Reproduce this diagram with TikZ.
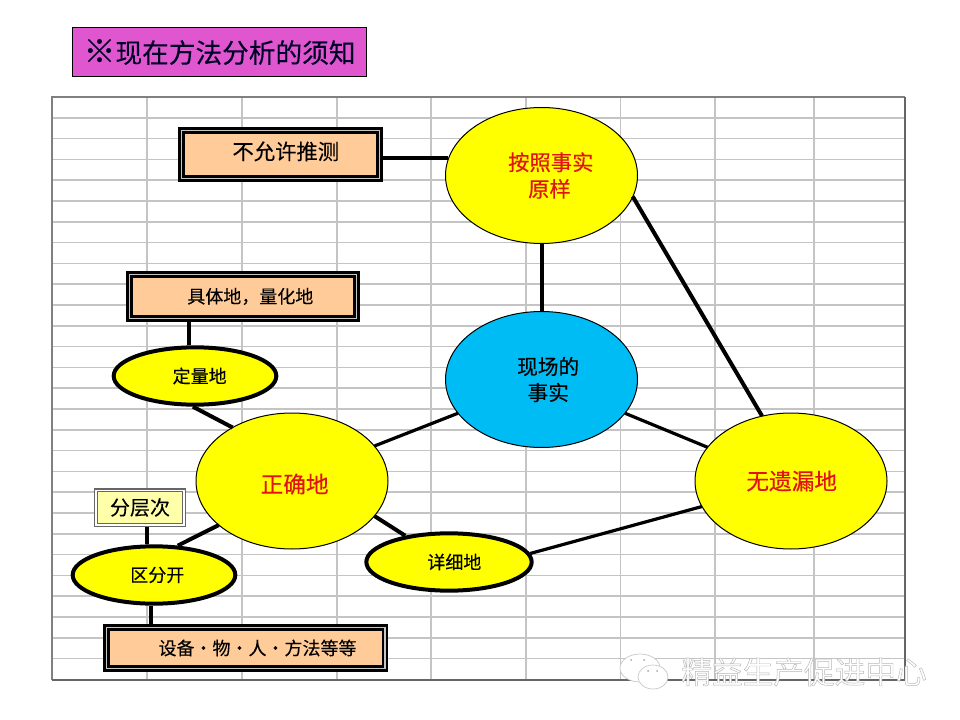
\documentclass[tikz,border=0pt]{standalone}
\usepackage{fontspec}
\setmainfont{Noto Sans CJK SC}[FakeBold=0.25]
\newfontfamily\plainfont{Noto Sans CJK SC}
\usetikzlibrary{shapes.geometric}
\definecolor{gridgray}{HTML}{C4C4C4}
\definecolor{framegray}{HTML}{808080}
\definecolor{titlefill}{HTML}{E056CF}
\definecolor{boxfill}{HTML}{FFCC99}
\definecolor{paleyellow}{HTML}{FFFFAA}
\definecolor{skyblue}{HTML}{00BCF5}
\definecolor{ellyellow}{HTML}{FFFF00}
\definecolor{redtext}{HTML}{E01414}
\newcommand{\outlinetext}[1]{\special{pdf:code 2 Tr 0.35 w 0.72 G}#1\special{pdf:code 0 Tr 0 w 0 G}}
\tikzset{
  bigell/.style={ellipse,draw=black,line width=.75pt,fill=ellyellow,inner sep=0pt,outer sep=0pt,
    minimum width=144pt,minimum height=102pt,align=center,font=\fontsize{16}{20}\selectfont,text=redtext},
  smallell/.style={ellipse,draw=black,line width=3pt,fill=ellyellow,inner sep=0pt,outer sep=1.5pt,
    minimum width=122pt,minimum height=43pt,font=\fontsize{13.5}{16}\selectfont},
  dblbox/.style={rectangle,draw=black,line width=2pt,double=gray!45,double distance=1pt,fill=boxfill,
    inner sep=0pt,outer sep=2.5pt,font=\fontsize{13.5}{16}\selectfont},
  link/.style={draw=black,line width=3pt},
  thinlink/.style={draw=black,line width=2.4pt},
}
\begin{document}
\begin{tikzpicture}[x=.75pt,y=-.75pt]
\useasboundingbox (0,0) rectangle (960,720);
\fill[white] (0,0) rectangle (960,720);
% grid
\fill[white] (52,97) rectangle (905,680);
\foreach \n in {1,...,27} \draw[gridgray,line width=1.1pt] (52,{97+\n*20.8}) -- (905,{97+\n*20.8});
\foreach \gx in {147,242,337,431,526,620.5,715,814} \draw[gridgray,line width=1.1pt] (\gx,97) -- (\gx,680);
\draw[framegray,line width=1.4pt] (52,680) -- (52,97) -- (905,97);
\draw[black!60,line width=1.8pt] (905,97) -- (905,680) -- (52,680);
% title
\node[rectangle,draw=black,line width=.75pt,fill=titlefill,minimum width=220.5pt,minimum height=37pt,inner sep=0pt,
  font=\fontsize{20}{24}\selectfont,text=black!85!blue] (title) at (219.5,52) {{\fontsize{24}{24}\selectfont ※}现在方法分析的须知};
% big ellipses
\node[bigell] (fact) at (541.5,175.5) {\hspace*{14pt}按照事实\\\hspace*{12pt}原样};
\node[bigell,fill=skyblue,text=black,font=\fontsize{15.5}{19.5}\selectfont] (site) at (541.5,379.5) {\hspace*{10pt}现场的\\\hspace*{10pt}事实};
\node[bigell,font=\fontsize{17}{22}\selectfont] (exact) at (292,481) {\hspace*{4pt}\rule{0pt}{19pt}正确地};
\node[bigell,font=\fontsize{17}{22}\selectfont] (full) at (791,481) {\hspace*{1pt}无遗漏地};
% small ellipses
\node[smallell] (quant) at (195,376) {\hspace*{7pt}定量地};
\node[smallell] (split) at (154,575) {\hspace*{5pt}区分开};
\node[smallell,minimum width=124pt] (detail) at (449,562) {\hspace*{8pt}详细地};
% boxes
\node[dblbox,minimum width=148.5pt,minimum height=36pt,font=\fontsize{16}{20}\selectfont] (noguess) at (280.5,154.5) {\hspace*{8pt}\rule[-6pt]{0pt}{6pt}不允许推测};
\node[dblbox,minimum width=170.5pt,minimum height=33pt] (concrete) at (243,296.5) {\hspace*{11pt}具体地，量化地};
\node[dblbox,minimum width=209pt,minimum height=31pt] (things) at (245.5,648) {\hspace*{18pt}设备・物・人・方法等等};
\node[rectangle,draw=black!60,line width=1pt,double=white,double distance=1pt,fill=paleyellow,inner sep=0pt,outer sep=1.5pt,
  minimum width=66pt,minimum height=26pt,font=\fontsize{15}{18}\selectfont] (layer) at (140,507.5) {分层次};
% connectors
\draw[link] (noguess.-2) -- (noguess.-2 -| fact.170);
\draw[link] (fact.south) -- (site.north);
\draw[link] (fact.-13) -- (full.114);
\draw[thinlink] (site.202.5) -- (exact.23);
\draw[thinlink] (site.-22) -- (full.158.6);
\draw[thinlink] (full.196.5) -- (detail.6);
\draw[link] (exact.-23.4) -- (detail.149.6);
\draw[link] (exact.138) -- (quant.-94);
\draw[link] (exact.211) -- (split.51);
\draw[thinlink] (quant.101.7) -- (quant.101.7 |- concrete.south);
\draw[thinlink] (split.103.6) -- (split.103.6 |- layer.south);
\draw[link] (split.-96) -- (split.-96 |- things.north);
% watermark
\begin{scope}[draw=gray!45,fill=white,line width=.5pt]
\filldraw (640,668) ellipse (20 and 14);
\filldraw (653,677) ellipse (15 and 12);
\fill[gray!70] (631,660) circle (1) (644,660) circle (1) (648,671) circle (1) (657,671) circle (1);
\end{scope}
\node[text=white,font=\plainfont\fontsize{23}{26}\selectfont,inner sep=0pt] (mark) at (804,672) {\outlinetext{精益生产促进中心}};
\end{tikzpicture}
\end{document}
